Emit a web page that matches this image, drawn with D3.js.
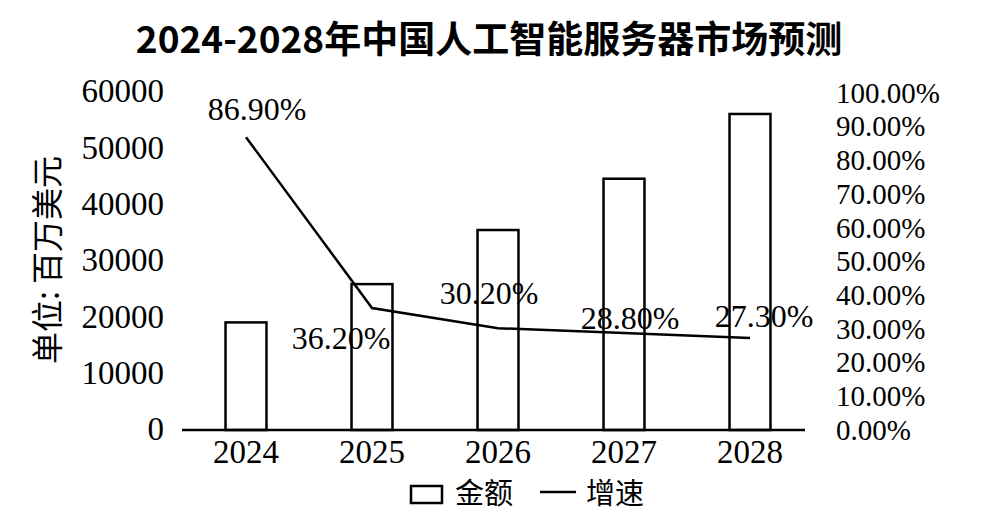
<!DOCTYPE html>
<html>
<head>
<meta charset="utf-8">
<script src="https://cdn.jsdelivr.net/npm/d3@7"></script>
<style>
  body { margin: 0; background: #fff; }
  svg { display: block; }
</style>
</head>
<body>
<script>
var w = 990;
var h = 513;
var serif = '"Liberation Serif", "Times New Roman", serif';
var cjk = '"Noto Sans CJK SC", sans-serif';

// data
var years = ['2024', '2025', '2026', '2027', '2028'];
var amount = [19100, 25900, 35500, 44600, 56100];   // 百万美元
var growth = [86.9, 36.2, 30.2, 28.8, 27.3];        // %
var leftTicks = [0, 10000, 20000, 30000, 40000, 50000, 60000];
var rightTicks = [0, 10, 20, 30, 40, 50, 60, 70, 80, 90, 100];

// where each growth label sits relative to its point
var labelOffsets = [[11, -28], [-31, 30], [-9, -35], [6, -15], [14, -22]];

var svg = d3.select('body').append('svg')
  .attr('width', w)
  .attr('height', h);

var x = d3.scaleBand()
  .domain(years)
  .range([183, 813])
  .paddingInner(0.675)
  .paddingOuter(0.3375);

var yL = d3.scaleLinear().domain([0, 60000]).range([430, 92]);
var yR = d3.scaleLinear().domain([0, 100]).range([430, 93]);

// title
svg.append('text')
  .attr('x', 489)
  .attr('y', 53)
  .attr('text-anchor', 'middle')
  .style('font-family', cjk)
  .style('font-size', '37px')
  .style('font-weight', 'bold')
  .text('2024-2028年中国人工智能服务器市场预测');

// bars
svg.append('g')
  .selectAll('rect')
  .data(amount)
  .enter().append('rect')
  .attr('x', function(d, i) { return x(years[i]); })
  .attr('y', function(d) { return yL(d); })
  .attr('width', x.bandwidth())
  .attr('height', function(d) { return yL(0) - yL(d); })
  .attr('fill', '#fff')
  .attr('stroke', '#000')
  .attr('stroke-width', 2.5);

// baseline
svg.append('line')
  .attr('x1', 182).attr('x2', 805)
  .attr('y1', yL(0)).attr('y2', yL(0))
  .attr('stroke', '#000')
  .attr('stroke-width', 2.5);

// left axis
var axL = svg.append('g')
  .attr('transform', 'translate(164,0)')
  .call(d3.axisLeft(yL).tickValues(leftTicks).tickSize(0).tickPadding(0).tickFormat(d3.format('d')));
axL.select('.domain').remove();
axL.selectAll('text')
  .attr('dy', '0.3em')
  .style('font-family', serif)
  .style('font-size', '33px')
  .attr('fill', '#000');

// right axis
var axR = svg.append('g')
  .attr('transform', 'translate(836,0)')
  .call(d3.axisRight(yR).tickValues(rightTicks).tickSize(0).tickPadding(0)
    .tickFormat(function(d) { return d.toFixed(2) + '%'; }));
axR.select('.domain').remove();
axR.selectAll('text')
  .attr('dy', '0.32em')
  .style('font-family', serif)
  .style('font-size', '29px')
  .attr('fill', '#000');

// x axis labels
var axX = svg.append('g')
  .attr('transform', 'translate(0,' + yL(0) + ')')
  .call(d3.axisBottom(x).tickSize(0).tickPadding(0));
axX.select('.domain').remove();
axX.selectAll('text')
  .attr('y', 33)
  .attr('dy', 0)
  .style('font-family', serif)
  .style('font-size', '33px')
  .attr('fill', '#000');

// growth line
var line = d3.line()
  .x(function(d, i) { return x(years[i]) + x.bandwidth() / 2; })
  .y(function(d) { return yR(d); });

svg.append('path')
  .datum(growth)
  .attr('d', line)
  .attr('fill', 'none')
  .attr('stroke', '#000')
  .attr('stroke-width', 2.5);

svg.append('g')
  .selectAll('text')
  .data(growth)
  .enter().append('text')
  .attr('x', function(d, i) { return x(years[i]) + x.bandwidth() / 2 + labelOffsets[i][0]; })
  .attr('y', function(d, i) { return yR(d) + labelOffsets[i][1]; })
  .attr('dy', '0.35em')
  .attr('text-anchor', 'middle')
  .style('font-family', serif)
  .style('font-size', '32px')
  .text(function(d) { return d.toFixed(2) + '%'; });

// y axis title
svg.append('text')
  .attr('transform', 'translate(59,260) rotate(-90)')
  .attr('text-anchor', 'middle')
  .style('font-family', cjk)
  .style('font-size', '32px')
  .text('单位: 百万美元');

// legend
var lg = svg.append('g');
lg.append('rect')
  .attr('x', 411).attr('y', 486)
  .attr('width', 31).attr('height', 17)
  .attr('fill', '#fff')
  .attr('stroke', '#000')
  .attr('stroke-width', 2.5);
lg.append('text')
  .attr('x', 455).attr('y', 504)
  .style('font-family', cjk)
  .style('font-size', '29px')
  .text('金额');
lg.append('line')
  .attr('x1', 540).attr('x2', 576)
  .attr('y1', 492).attr('y2', 492)
  .attr('stroke', '#000')
  .attr('stroke-width', 2.5);
lg.append('text')
  .attr('x', 586).attr('y', 504)
  .style('font-family', cjk)
  .style('font-size', '29px')
  .text('增速');
</script>
</body>
</html>
